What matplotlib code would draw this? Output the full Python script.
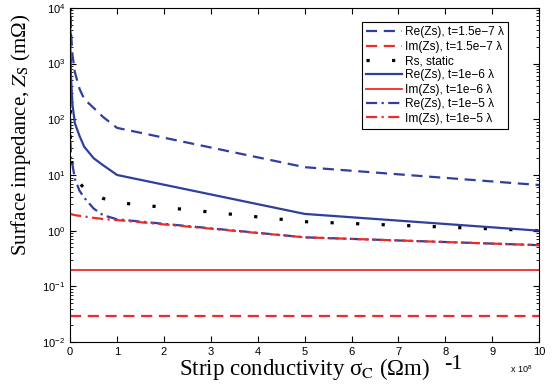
import numpy as np
import matplotlib
matplotlib.use('Agg')
import matplotlib.pyplot as plt

# conductivity samples, units of 1e8 S/m
sigma = [0.0005, 0.005, 0.02, 0.05, 0.1, 0.2, 0.3, 0.5, 0.7, 1, 5, 10]

# surface impedance values (mOhm)
re_t15e7 = [20000, 14000, 3400, 1400, 700, 350, 230, 160, 110, 70, 13.8, 6.6]
im_t15e7 = [0.029] * len(sigma)
rs_static = [10000, 45, 22, 14, 10, 7.1, 5.8, 4.5, 3.8, 3.2, 1.45, 1.0]
re_t1e6 = [5000, 1500, 500, 180, 85, 50, 32, 20, 15, 10, 2.0, 1.0]
im_t1e6 = [0.195] * len(sigma)
re_t1e5 = [10000, 40, 20, 15, 8.5, 5.2, 3.9, 2.5, 1.9, 1.6, 0.76, 0.55]
im_t1e5 = [2.0, 2.0, 1.98, 1.95, 1.9, 1.85, 1.8, 1.7, 1.62, 1.55, 0.76, 0.55]

labels = ['Re(Zs), t=1.5e\u22127 \u03bb', 'Im(Zs), t=1.5e\u22127 \u03bb', 'Rs, static',
          'Re(Zs), t=1e\u22126 \u03bb', 'Im(Zs), t=1e\u22126 \u03bb',
          'Re(Zs), t=1e\u22125 \u03bb', 'Im(Zs), t=1e\u22125 \u03bb']

blue = '#2e3f9e'
red = '#f02a2a'

plt.rcParams['font.family'] = ['Liberation Sans', 'DejaVu Sans']
plt.rcParams['mathtext.fontset'] = 'custom'
plt.rcParams['mathtext.rm'] = 'Liberation Sans'

fig = plt.figure(figsize=(5.57, 3.91), dpi=100)
ax = fig.add_axes([0.126, 0.125, 0.842, 0.855])

ax.plot(sigma, re_t15e7, color=blue, lw=1.6, dashes=(5, 3), label=labels[0])
ax.plot(sigma, im_t15e7, color=red, lw=1.6, dashes=(5, 3), label=labels[1])
ax.plot(sigma, rs_static, color='black', lw=2.3, dashes=(1, 7), label=labels[2])
ax.plot(sigma, re_t1e6, color=blue, lw=1.6, label=labels[3])
ax.plot(sigma, im_t1e6, color=red, lw=1.3, label=labels[4])
ax.plot(sigma, re_t1e5, color=blue, lw=1.6, dashes=(5, 2, 1, 2), label=labels[5])
ax.plot(sigma, im_t1e5, color=red, lw=1.6, dashes=(5, 2, 1, 2), label=labels[6])

ax.set_yscale('log')
ax.set_xlim(0, 10)
ax.set_ylim(1e-2, 1e4)
ax.set_xticks(range(0, 11))
ax.tick_params(which='both', direction='in', top=True, right=True, labelsize=8)
ax.tick_params(which='major', length=4)
ax.tick_params(which='minor', length=2)

ax.set_ylabel('Surface impedance, $Z_\\mathrm{S}$ (m\u03a9)', family='Liberation Serif',
              fontsize=15, math_fontfamily='stix')
ax.yaxis.set_label_coords(-0.079, 0.62)
ax.set_xlabel('Strip conductivity \u03c3$_\\mathrm{C}$ (\u03a9m)', family='Liberation Serif',
              fontsize=16.5, math_fontfamily='stix', labelpad=-1)
fig.text(0.797, 0.055, '-1', family='Liberation Serif', fontsize=16)
fig.text(0.915, 0.045, 'x 10$^{8}$', fontsize=6.5)

leg = ax.legend(loc='upper right', fontsize=8.6, handlelength=3.0, handletextpad=0.3,
                labelspacing=0.2, borderpad=0.35, fancybox=False, framealpha=1,
                edgecolor='black', bbox_to_anchor=(0.947, 0.975))
leg.get_frame().set_linewidth(0.8)

fig.savefig('out.png', dpi=100)
